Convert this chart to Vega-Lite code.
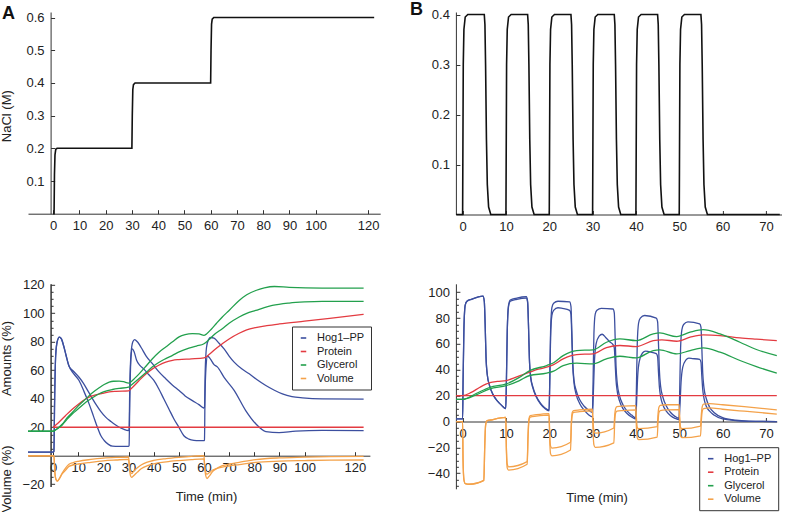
{
"$schema": "https://vega.github.io/schema/vega-lite/v6.json",
"background": "white",
"padding": {"left": 0, "top": 0, "right": 2, "bottom": 0},
"bounds": "flush",
"align": "each",
"columns": 2,
"spacing": {"row": 68.8, "column": 74.9},
"resolve": {"scale": {"color": "independent"}, "legend": {"color": "independent"}},
"datasets": {
"aTop": [{"t":0,"v":0},{"t":0.35,"v":0},{"t":0.5,"v":0.12},{"t":0.7,"v":0.18},{"t":1.0,"v":0.197},{"t":1.5,"v":0.2},{"t":30,"v":0.2},{"t":30.15,"v":0.3},{"t":30.35,"v":0.38},{"t":30.6,"v":0.395},{"t":31.2,"v":0.4},{"t":60,"v":0.4},{"t":60.15,"v":0.5},{"t":60.35,"v":0.58},{"t":60.6,"v":0.595},{"t":61.2,"v":0.6},{"t":122.3,"v":0.6}],
"bTop": [{"t":-1.5,"v":0},
{"t":0,"v":0},{"t":0.05,"v":0.1},{"t":0.15,"v":0.3},{"t":0.3,"v":0.37},{"t":0.6,"v":0.395},{"t":1.2,"v":0.4},{"t":5,"v":0.4},{"t":5.15,"v":0.38},{"t":5.3,"v":0.3},{"t":5.5,"v":0.15},{"t":5.7,"v":0.06},{"t":6,"v":0.015},{"t":6.5,"v":0},
{"t":10,"v":0},{"t":10.05,"v":0.1},{"t":10.15,"v":0.3},{"t":10.3,"v":0.37},{"t":10.6,"v":0.395},{"t":11.2,"v":0.4},{"t":15,"v":0.4},{"t":15.15,"v":0.38},{"t":15.3,"v":0.3},{"t":15.5,"v":0.15},{"t":15.7,"v":0.06},{"t":16,"v":0.015},{"t":16.5,"v":0},
{"t":20,"v":0},{"t":20.05,"v":0.1},{"t":20.15,"v":0.3},{"t":20.3,"v":0.37},{"t":20.6,"v":0.395},{"t":21.2,"v":0.4},{"t":25,"v":0.4},{"t":25.15,"v":0.38},{"t":25.3,"v":0.3},{"t":25.5,"v":0.15},{"t":25.7,"v":0.06},{"t":26,"v":0.015},{"t":26.5,"v":0},
{"t":30,"v":0},{"t":30.05,"v":0.1},{"t":30.15,"v":0.3},{"t":30.3,"v":0.37},{"t":30.6,"v":0.395},{"t":31.2,"v":0.4},{"t":35,"v":0.4},{"t":35.15,"v":0.38},{"t":35.3,"v":0.3},{"t":35.5,"v":0.15},{"t":35.7,"v":0.06},{"t":36,"v":0.015},{"t":36.5,"v":0},
{"t":40,"v":0},{"t":40.05,"v":0.1},{"t":40.15,"v":0.3},{"t":40.3,"v":0.37},{"t":40.6,"v":0.395},{"t":41.2,"v":0.4},{"t":45,"v":0.4},{"t":45.15,"v":0.38},{"t":45.3,"v":0.3},{"t":45.5,"v":0.15},{"t":45.7,"v":0.06},{"t":46,"v":0.015},{"t":46.5,"v":0},
{"t":50,"v":0},{"t":50.05,"v":0.1},{"t":50.15,"v":0.3},{"t":50.3,"v":0.37},{"t":50.6,"v":0.395},{"t":51.2,"v":0.4},{"t":55,"v":0.4},{"t":55.15,"v":0.38},{"t":55.3,"v":0.3},{"t":55.5,"v":0.15},{"t":55.7,"v":0.06},{"t":56,"v":0.015},{"t":56.5,"v":0},
{"t":73.2,"v":0}],
"aBot": [
{"s":"H","r":1,"t":-10,"v":2.5},{"s":"H","r":1,"t":0,"v":2.5},{"s":"H","r":1,"t":0.3,"v":3},{"s":"H","r":1,"t":0.6,"v":40},{"s":"H","r":1,"t":1.0,"v":70},{"s":"H","r":1,"t":1.6,"v":80},{"s":"H","r":1,"t":2.5,"v":83.3},{"s":"H","r":1,"t":3.3,"v":82},{"s":"H","r":1,"t":4.2,"v":77},{"s":"H","r":1,"t":5.2,"v":70},{"s":"H","r":1,"t":6.3,"v":63},{"s":"H","r":1,"t":8,"v":58},{"s":"H","r":1,"t":10.3,"v":52.8},{"s":"H","r":1,"t":12.3,"v":45},{"s":"H","r":1,"t":14.3,"v":36.4},{"s":"H","r":1,"t":16,"v":28},{"s":"H","r":1,"t":17.6,"v":20},{"s":"H","r":1,"t":19,"v":14},{"s":"H","r":1,"t":20.3,"v":10.7},{"s":"H","r":1,"t":22,"v":8},{"s":"H","r":1,"t":23.6,"v":6.7},{"s":"H","r":1,"t":26,"v":6.5},{"s":"H","r":1,"t":29.9,"v":6.5},{"s":"H","r":1,"t":30.2,"v":7},{"s":"H","r":1,"t":30.5,"v":40},{"s":"H","r":1,"t":31,"v":70},{"s":"H","r":1,"t":31.5,"v":75},{"s":"H","r":1,"t":32.2,"v":73},{"s":"H","r":1,"t":33.2,"v":67},{"s":"H","r":1,"t":34.5,"v":63.4},{"s":"H","r":1,"t":36,"v":61},{"s":"H","r":1,"t":38,"v":57},{"s":"H","r":1,"t":40,"v":53},{"s":"H","r":1,"t":42,"v":47},{"s":"H","r":1,"t":44,"v":40},{"s":"H","r":1,"t":46,"v":33},{"s":"H","r":1,"t":48,"v":26},{"s":"H","r":1,"t":50,"v":20},{"s":"H","r":1,"t":52,"v":14},{"s":"H","r":1,"t":54,"v":11.7},{"s":"H","r":1,"t":56,"v":10.8},{"s":"H","r":1,"t":58,"v":10.6},{"s":"H","r":1,"t":59.9,"v":10.6},{"s":"H","r":1,"t":60.2,"v":11},{"s":"H","r":1,"t":60.4,"v":40},{"s":"H","r":1,"t":60.8,"v":62},{"s":"H","r":1,"t":61.4,"v":70},{"s":"H","r":1,"t":62.5,"v":68},{"s":"H","r":1,"t":64,"v":64},{"s":"H","r":1,"t":65.4,"v":62.2},{"s":"H","r":1,"t":68,"v":55},{"s":"H","r":1,"t":72,"v":45.9},{"s":"H","r":1,"t":76.6,"v":31.7},{"s":"H","r":1,"t":80.6,"v":22.4},{"s":"H","r":1,"t":84.6,"v":17},{"s":"H","r":1,"t":89.9,"v":16.2},{"s":"H","r":1,"t":96.5,"v":17.3},{"s":"H","r":1,"t":107,"v":17.8},{"s":"H","r":1,"t":123.5,"v":17.6},
{"s":"H","r":2,"t":-10,"v":2.5},{"s":"H","r":2,"t":0,"v":2.5},{"s":"H","r":2,"t":0.3,"v":3},{"s":"H","r":2,"t":0.6,"v":40},{"s":"H","r":2,"t":1.0,"v":70},{"s":"H","r":2,"t":1.6,"v":80},{"s":"H","r":2,"t":2.5,"v":83.3},{"s":"H","r":2,"t":3.3,"v":82},{"s":"H","r":2,"t":4.2,"v":77},{"s":"H","r":2,"t":5.2,"v":70},{"s":"H","r":2,"t":6.3,"v":63},{"s":"H","r":2,"t":8,"v":59.5},{"s":"H","r":2,"t":10.3,"v":55.1},{"s":"H","r":2,"t":12,"v":51},{"s":"H","r":2,"t":14,"v":45},{"s":"H","r":2,"t":16.9,"v":36.4},{"s":"H","r":2,"t":19,"v":31},{"s":"H","r":2,"t":20.9,"v":27.1},{"s":"H","r":2,"t":23,"v":24},{"s":"H","r":2,"t":26.3,"v":20},{"s":"H","r":2,"t":28,"v":18.7},{"s":"H","r":2,"t":29.9,"v":17.7},{"s":"H","r":2,"t":30.2,"v":18},{"s":"H","r":2,"t":30.5,"v":50},{"s":"H","r":2,"t":31,"v":72},{"s":"H","r":2,"t":31.7,"v":80},{"s":"H","r":2,"t":32.4,"v":81.5},{"s":"H","r":2,"t":33.5,"v":80},{"s":"H","r":2,"t":35,"v":76},{"s":"H","r":2,"t":37,"v":70},{"s":"H","r":2,"t":39.5,"v":64.6},{"s":"H","r":2,"t":42,"v":59},{"s":"H","r":2,"t":44.8,"v":54},{"s":"H","r":2,"t":47.5,"v":49.5},{"s":"H","r":2,"t":50.1,"v":45.8},{"s":"H","r":2,"t":52.5,"v":42},{"s":"H","r":2,"t":55.4,"v":38.7},{"s":"H","r":2,"t":58,"v":35.9},{"s":"H","r":2,"t":59.9,"v":33.5},{"s":"H","r":2,"t":60.2,"v":34},{"s":"H","r":2,"t":60.5,"v":60},{"s":"H","r":2,"t":61,"v":76},{"s":"H","r":2,"t":61.8,"v":81.5},{"s":"H","r":2,"t":62.7,"v":83},{"s":"H","r":2,"t":64,"v":82.5},{"s":"H","r":2,"t":66,"v":79},{"s":"H","r":2,"t":68,"v":75},{"s":"H","r":2,"t":70,"v":70},{"s":"H","r":2,"t":72,"v":65.7},{"s":"H","r":2,"t":75,"v":61},{"s":"H","r":2,"t":78,"v":57.5},{"s":"H","r":2,"t":81,"v":53.5},{"s":"H","r":2,"t":84.6,"v":49.3},{"s":"H","r":2,"t":88,"v":46},{"s":"H","r":2,"t":91.2,"v":43.4},{"s":"H","r":2,"t":95,"v":41.5},{"s":"H","r":2,"t":99.2,"v":40.6},{"s":"H","r":2,"t":107,"v":39.9},{"s":"H","r":2,"t":123.5,"v":39.8},
{"s":"P","r":1,"t":0,"v":20},{"s":"P","r":1,"t":123.5,"v":20},
{"s":"P","r":2,"t":0,"v":20},{"s":"P","r":2,"t":2,"v":23},{"s":"P","r":2,"t":5,"v":28.3},{"s":"P","r":2,"t":7.5,"v":32.5},{"s":"P","r":2,"t":10.3,"v":36.5},{"s":"P","r":2,"t":13,"v":40},{"s":"P","r":2,"t":15.6,"v":42},{"s":"P","r":2,"t":19.6,"v":43.8},{"s":"P","r":2,"t":22.3,"v":44.8},{"s":"P","r":2,"t":25,"v":45.2},{"s":"P","r":2,"t":30,"v":45.5},{"s":"P","r":2,"t":31,"v":47},{"s":"P","r":2,"t":34.2,"v":52.8},{"s":"P","r":2,"t":37,"v":57.5},{"s":"P","r":2,"t":39.5,"v":61},{"s":"P","r":2,"t":42,"v":63.5},{"s":"P","r":2,"t":44.8,"v":65.7},{"s":"P","r":2,"t":47.5,"v":67},{"s":"P","r":2,"t":50,"v":67.5},{"s":"P","r":2,"t":55,"v":68},{"s":"P","r":2,"t":60,"v":68.7},{"s":"P","r":2,"t":62,"v":71},{"s":"P","r":2,"t":64.7,"v":75.1},{"s":"P","r":2,"t":67.3,"v":78.6},{"s":"P","r":2,"t":70,"v":82},{"s":"P","r":2,"t":74,"v":86},{"s":"P","r":2,"t":77,"v":88.3},{"s":"P","r":2,"t":80,"v":89.8},{"s":"P","r":2,"t":85,"v":91.3},{"s":"P","r":2,"t":90,"v":92.5},{"s":"P","r":2,"t":100,"v":94.5},{"s":"P","r":2,"t":110,"v":96.5},{"s":"P","r":2,"t":123.5,"v":99.2},
{"s":"G","r":1,"t":-10,"v":17.2},{"s":"G","r":1,"t":0,"v":17.2},{"s":"G","r":1,"t":0.4,"v":17.5},{"s":"G","r":1,"t":2,"v":19.5},{"s":"G","r":1,"t":3.7,"v":22.3},{"s":"G","r":1,"t":5.5,"v":26.5},{"s":"G","r":1,"t":7.7,"v":30.5},{"s":"G","r":1,"t":10,"v":35},{"s":"G","r":1,"t":13,"v":39.9},{"s":"G","r":1,"t":15.5,"v":44},{"s":"G","r":1,"t":18.3,"v":47.7},{"s":"G","r":1,"t":20.3,"v":50},{"s":"G","r":1,"t":22.3,"v":51.7},{"s":"G","r":1,"t":24,"v":52.3},{"s":"G","r":1,"t":26.3,"v":52.4},{"s":"G","r":1,"t":28,"v":52},{"s":"G","r":1,"t":30,"v":51},{"s":"G","r":1,"t":31,"v":52},{"s":"G","r":1,"t":32.5,"v":54.5},{"s":"G","r":1,"t":34.2,"v":57.5},{"s":"G","r":1,"t":37,"v":63},{"s":"G","r":1,"t":39.5,"v":68.1},{"s":"G","r":1,"t":42,"v":72.5},{"s":"G","r":1,"t":44.8,"v":76.3},{"s":"G","r":1,"t":47.5,"v":80},{"s":"G","r":1,"t":50.1,"v":83.4},{"s":"G","r":1,"t":52.5,"v":85},{"s":"G","r":1,"t":55.4,"v":85.7},{"s":"G","r":1,"t":58,"v":85.5},{"s":"G","r":1,"t":60,"v":84.5},{"s":"G","r":1,"t":61,"v":85.5},{"s":"G","r":1,"t":63,"v":89},{"s":"G","r":1,"t":65,"v":93},{"s":"G","r":1,"t":67.3,"v":97.4},{"s":"G","r":1,"t":70,"v":102},{"s":"G","r":1,"t":74,"v":109},{"s":"G","r":1,"t":77,"v":113},{"s":"G","r":1,"t":80.6,"v":116},{"s":"G","r":1,"t":84,"v":117.8},{"s":"G","r":1,"t":88,"v":118.8},{"s":"G","r":1,"t":93.9,"v":118.2},{"s":"G","r":1,"t":107,"v":117.7},{"s":"G","r":1,"t":123.5,"v":117.7},
{"s":"G","r":2,"t":-10,"v":17.2},{"s":"G","r":2,"t":0,"v":17.2},{"s":"G","r":2,"t":0.4,"v":17.5},{"s":"G","r":2,"t":2,"v":19.3},{"s":"G","r":2,"t":3.7,"v":21.8},{"s":"G","r":2,"t":5.5,"v":25.5},{"s":"G","r":2,"t":7.7,"v":29.5},{"s":"G","r":2,"t":10,"v":33},{"s":"G","r":2,"t":13,"v":37.6},{"s":"G","r":2,"t":15.5,"v":40.5},{"s":"G","r":2,"t":18.3,"v":43.5},{"s":"G","r":2,"t":20.3,"v":45},{"s":"G","r":2,"t":23.6,"v":46.5},{"s":"G","r":2,"t":26.3,"v":47.3},{"s":"G","r":2,"t":30,"v":48.1},{"s":"G","r":2,"t":31,"v":49.5},{"s":"G","r":2,"t":34.2,"v":54.2},{"s":"G","r":2,"t":37,"v":58.5},{"s":"G","r":2,"t":39.5,"v":62.4},{"s":"G","r":2,"t":42,"v":65.5},{"s":"G","r":2,"t":44.8,"v":68.2},{"s":"G","r":2,"t":47.5,"v":70.5},{"s":"G","r":2,"t":50.1,"v":72.9},{"s":"G","r":2,"t":54,"v":75.5},{"s":"G","r":2,"t":57,"v":77},{"s":"G","r":2,"t":60,"v":78.6},{"s":"G","r":2,"t":62,"v":81.5},{"s":"G","r":2,"t":64,"v":85},{"s":"G","r":2,"t":67.3,"v":89.2},{"s":"G","r":2,"t":70,"v":93},{"s":"G","r":2,"t":74,"v":97.4},{"s":"G","r":2,"t":77,"v":100},{"s":"G","r":2,"t":80.6,"v":102},{"s":"G","r":2,"t":84,"v":104},{"s":"G","r":2,"t":87.2,"v":105.5},{"s":"G","r":2,"t":93.9,"v":107.2},{"s":"G","r":2,"t":100,"v":108},{"s":"G","r":2,"t":107,"v":108.4},{"s":"G","r":2,"t":123.5,"v":108.4},
{"s":"V","r":1,"t":-10,"v":0},{"s":"V","r":1,"t":0.3,"v":0},{"s":"V","r":1,"t":0.7,"v":-12},{"s":"V","r":1,"t":1.1,"v":-16.5},{"s":"V","r":1,"t":1.7,"v":-17.8},{"s":"V","r":1,"t":2.5,"v":-16},{"s":"V","r":1,"t":3.5,"v":-12.5},{"s":"V","r":1,"t":5,"v":-8.5},{"s":"V","r":1,"t":6.3,"v":-6},{"s":"V","r":1,"t":8,"v":-4.8},{"s":"V","r":1,"t":10,"v":-3.9},{"s":"V","r":1,"t":15,"v":-2.6},{"s":"V","r":1,"t":20,"v":-1.7},{"s":"V","r":1,"t":25,"v":-1.2},{"s":"V","r":1,"t":30,"v":-0.9},{"s":"V","r":1,"t":30.3,"v":-6},{"s":"V","r":1,"t":30.7,"v":-11},{"s":"V","r":1,"t":31.2,"v":-12.5},{"s":"V","r":1,"t":32,"v":-11},{"s":"V","r":1,"t":33.5,"v":-8.5},{"s":"V","r":1,"t":35,"v":-6.5},{"s":"V","r":1,"t":37.5,"v":-4.5},{"s":"V","r":1,"t":40,"v":-3.3},{"s":"V","r":1,"t":45,"v":-2},{"s":"V","r":1,"t":50,"v":-1.1},{"s":"V","r":1,"t":55,"v":-0.4},{"s":"V","r":1,"t":60,"v":0},{"s":"V","r":1,"t":60.3,"v":-8},{"s":"V","r":1,"t":60.7,"v":-14},{"s":"V","r":1,"t":61.2,"v":-16},{"s":"V","r":1,"t":62,"v":-14.5},{"s":"V","r":1,"t":63.5,"v":-11},{"s":"V","r":1,"t":65,"v":-9},{"s":"V","r":1,"t":67.3,"v":-7},{"s":"V","r":1,"t":70,"v":-5.8},{"s":"V","r":1,"t":74,"v":-4.6},{"s":"V","r":1,"t":80.6,"v":-2.7},{"s":"V","r":1,"t":90,"v":-1.5},{"s":"V","r":1,"t":100,"v":-1},{"s":"V","r":1,"t":110,"v":-0.6},{"s":"V","r":1,"t":123.5,"v":-0.4},
{"s":"V","r":2,"t":-10,"v":0},{"s":"V","r":2,"t":0.3,"v":0},{"s":"V","r":2,"t":0.7,"v":-12},{"s":"V","r":2,"t":1.1,"v":-16.5},{"s":"V","r":2,"t":1.7,"v":-17.8},{"s":"V","r":2,"t":2.5,"v":-16},{"s":"V","r":2,"t":3.5,"v":-13},{"s":"V","r":2,"t":5,"v":-10},{"s":"V","r":2,"t":6.3,"v":-7.5},{"s":"V","r":2,"t":8,"v":-6.5},{"s":"V","r":2,"t":10,"v":-5.8},{"s":"V","r":2,"t":15,"v":-4.6},{"s":"V","r":2,"t":20,"v":-3.6},{"s":"V","r":2,"t":25,"v":-3},{"s":"V","r":2,"t":30,"v":-2.5},{"s":"V","r":2,"t":30.3,"v":-8},{"s":"V","r":2,"t":30.7,"v":-13.5},{"s":"V","r":2,"t":31.2,"v":-15.2},{"s":"V","r":2,"t":32,"v":-14},{"s":"V","r":2,"t":33.5,"v":-11.5},{"s":"V","r":2,"t":35,"v":-9.2},{"s":"V","r":2,"t":37.5,"v":-7},{"s":"V","r":2,"t":40,"v":-5.7},{"s":"V","r":2,"t":45,"v":-4.3},{"s":"V","r":2,"t":50,"v":-3.4},{"s":"V","r":2,"t":55,"v":-2.7},{"s":"V","r":2,"t":60,"v":-2.2},{"s":"V","r":2,"t":60.3,"v":-8},{"s":"V","r":2,"t":60.7,"v":-12},{"s":"V","r":2,"t":61.2,"v":-13},{"s":"V","r":2,"t":62,"v":-12},{"s":"V","r":2,"t":63.5,"v":-10},{"s":"V","r":2,"t":65,"v":-9},{"s":"V","r":2,"t":67.3,"v":-8},{"s":"V","r":2,"t":70,"v":-7.2},{"s":"V","r":2,"t":74,"v":-6.2},{"s":"V","r":2,"t":80.6,"v":-4.6},{"s":"V","r":2,"t":90,"v":-3.8},{"s":"V","r":2,"t":100,"v":-3.4},{"s":"V","r":2,"t":110,"v":-3.1},{"s":"V","r":2,"t":123.5,"v":-3}
],
"bBot": [
{"s":"H","r":1,"t":-1.5,"v":2.1},{"s":"H","r":1,"t":0,"v":2.1},{"s":"H","r":1,"t":0.1,"v":30},{"s":"H","r":1,"t":0.3,"v":72},{"s":"H","r":1,"t":0.6,"v":90},{"s":"H","r":1,"t":1,"v":93},{"s":"H","r":1,"t":2,"v":94.5},{"s":"H","r":1,"t":4.7,"v":97},{"s":"H","r":1,"t":5,"v":93},{"s":"H","r":1,"t":5.2,"v":75},{"s":"H","r":1,"t":5.4,"v":50},{"s":"H","r":1,"t":5.7,"v":36},{"s":"H","r":1,"t":6.2,"v":28},{"s":"H","r":1,"t":7,"v":21},{"s":"H","r":1,"t":8,"v":16},{"s":"H","r":1,"t":9,"v":12.5},{"s":"H","r":1,"t":9.95,"v":10},
{"s":"H","r":1,"t":10.1,"v":30},{"s":"H","r":1,"t":10.3,"v":70},{"s":"H","r":1,"t":10.6,"v":90},{"s":"H","r":1,"t":11,"v":94},{"s":"H","r":1,"t":12.5,"v":95.5},{"s":"H","r":1,"t":14.7,"v":96.5},{"s":"H","r":1,"t":15,"v":93},{"s":"H","r":1,"t":15.2,"v":75},{"s":"H","r":1,"t":15.4,"v":50},{"s":"H","r":1,"t":15.7,"v":35},{"s":"H","r":1,"t":16.2,"v":27},{"s":"H","r":1,"t":17,"v":19.5},{"s":"H","r":1,"t":18,"v":14},{"s":"H","r":1,"t":19,"v":10.5},{"s":"H","r":1,"t":19.95,"v":8.8},
{"s":"H","r":1,"t":20.1,"v":30},{"s":"H","r":1,"t":20.3,"v":70},{"s":"H","r":1,"t":20.6,"v":88},{"s":"H","r":1,"t":21,"v":91.5},{"s":"H","r":1,"t":22,"v":93},{"s":"H","r":1,"t":24.7,"v":92.5},{"s":"H","r":1,"t":25,"v":89},{"s":"H","r":1,"t":25.2,"v":70},{"s":"H","r":1,"t":25.4,"v":47},{"s":"H","r":1,"t":25.7,"v":32},{"s":"H","r":1,"t":26.2,"v":24},{"s":"H","r":1,"t":27,"v":17},{"s":"H","r":1,"t":28,"v":12},{"s":"H","r":1,"t":29,"v":9},{"s":"H","r":1,"t":29.95,"v":7.2},
{"s":"H","r":1,"t":30.1,"v":30},{"s":"H","r":1,"t":30.3,"v":68},{"s":"H","r":1,"t":30.6,"v":83},{"s":"H","r":1,"t":31,"v":86},{"s":"H","r":1,"t":32,"v":87.5},{"s":"H","r":1,"t":34.7,"v":87},{"s":"H","r":1,"t":35,"v":84},{"s":"H","r":1,"t":35.2,"v":65},{"s":"H","r":1,"t":35.4,"v":43},{"s":"H","r":1,"t":35.7,"v":29},{"s":"H","r":1,"t":36.2,"v":20},{"s":"H","r":1,"t":37,"v":13},{"s":"H","r":1,"t":38,"v":8},{"s":"H","r":1,"t":39,"v":5},{"s":"H","r":1,"t":39.95,"v":3},
{"s":"H","r":1,"t":40.1,"v":25},{"s":"H","r":1,"t":40.3,"v":60},{"s":"H","r":1,"t":40.6,"v":76},{"s":"H","r":1,"t":41,"v":80},{"s":"H","r":1,"t":42,"v":82},{"s":"H","r":1,"t":44.7,"v":80},{"s":"H","r":1,"t":45,"v":77},{"s":"H","r":1,"t":45.2,"v":60},{"s":"H","r":1,"t":45.4,"v":40},{"s":"H","r":1,"t":45.7,"v":27},{"s":"H","r":1,"t":46.2,"v":19},{"s":"H","r":1,"t":47,"v":12},{"s":"H","r":1,"t":48,"v":7},{"s":"H","r":1,"t":49,"v":4},{"s":"H","r":1,"t":49.95,"v":2.5},
{"s":"H","r":1,"t":50.1,"v":25},{"s":"H","r":1,"t":50.3,"v":57},{"s":"H","r":1,"t":50.6,"v":71},{"s":"H","r":1,"t":51,"v":75},{"s":"H","r":1,"t":52,"v":77},{"s":"H","r":1,"t":54.7,"v":75.5},{"s":"H","r":1,"t":55,"v":73},{"s":"H","r":1,"t":55.2,"v":57},{"s":"H","r":1,"t":55.4,"v":38},{"s":"H","r":1,"t":55.7,"v":26},{"s":"H","r":1,"t":56.2,"v":18},{"s":"H","r":1,"t":57,"v":11},{"s":"H","r":1,"t":58,"v":7},{"s":"H","r":1,"t":60,"v":3},{"s":"H","r":1,"t":63,"v":1},{"s":"H","r":1,"t":66,"v":0.3},{"s":"H","r":1,"t":72.5,"v":0},
{"s":"H","r":2,"t":-1.5,"v":2.1},{"s":"H","r":2,"t":0,"v":2.1},{"s":"H","r":2,"t":0.1,"v":30},{"s":"H","r":2,"t":0.3,"v":72},{"s":"H","r":2,"t":0.6,"v":90},{"s":"H","r":2,"t":1,"v":93},{"s":"H","r":2,"t":2,"v":94.5},{"s":"H","r":2,"t":4.7,"v":97},{"s":"H","r":2,"t":5,"v":93},{"s":"H","r":2,"t":5.2,"v":75},{"s":"H","r":2,"t":5.4,"v":50},{"s":"H","r":2,"t":5.7,"v":36},{"s":"H","r":2,"t":6.2,"v":28},{"s":"H","r":2,"t":7,"v":21},{"s":"H","r":2,"t":8,"v":16},{"s":"H","r":2,"t":9,"v":12.5},{"s":"H","r":2,"t":9.95,"v":10},
{"s":"H","r":2,"t":10.1,"v":30},{"s":"H","r":2,"t":10.3,"v":70},{"s":"H","r":2,"t":10.6,"v":89},{"s":"H","r":2,"t":11,"v":93},{"s":"H","r":2,"t":12.5,"v":94.5},{"s":"H","r":2,"t":14.7,"v":95.5},{"s":"H","r":2,"t":15,"v":92},{"s":"H","r":2,"t":15.2,"v":74},{"s":"H","r":2,"t":15.4,"v":49},{"s":"H","r":2,"t":15.7,"v":34},{"s":"H","r":2,"t":16.2,"v":26},{"s":"H","r":2,"t":17,"v":19},{"s":"H","r":2,"t":18,"v":13.5},{"s":"H","r":2,"t":19,"v":10},{"s":"H","r":2,"t":19.95,"v":8.3},
{"s":"H","r":2,"t":20.1,"v":28},{"s":"H","r":2,"t":20.3,"v":65},{"s":"H","r":2,"t":20.6,"v":82},{"s":"H","r":2,"t":21,"v":86},{"s":"H","r":2,"t":22,"v":88},{"s":"H","r":2,"t":23,"v":87.5},{"s":"H","r":2,"t":24.7,"v":86},{"s":"H","r":2,"t":25,"v":83},{"s":"H","r":2,"t":25.2,"v":65},{"s":"H","r":2,"t":25.4,"v":44},{"s":"H","r":2,"t":25.7,"v":30},{"s":"H","r":2,"t":26.2,"v":21},{"s":"H","r":2,"t":27,"v":14},{"s":"H","r":2,"t":28,"v":9},{"s":"H","r":2,"t":29,"v":5.5},{"s":"H","r":2,"t":29.95,"v":3.6},
{"s":"H","r":2,"t":30.15,"v":20},{"s":"H","r":2,"t":30.4,"v":45},{"s":"H","r":2,"t":30.8,"v":60},{"s":"H","r":2,"t":31.5,"v":66},{"s":"H","r":2,"t":32.2,"v":67.5},{"s":"H","r":2,"t":33,"v":65},{"s":"H","r":2,"t":34,"v":61.5},{"s":"H","r":2,"t":34.7,"v":59.5},{"s":"H","r":2,"t":35,"v":57},{"s":"H","r":2,"t":35.2,"v":45},{"s":"H","r":2,"t":35.4,"v":32},{"s":"H","r":2,"t":35.7,"v":23},{"s":"H","r":2,"t":36.2,"v":16},{"s":"H","r":2,"t":37,"v":10},{"s":"H","r":2,"t":38,"v":6},{"s":"H","r":2,"t":39,"v":3.5},{"s":"H","r":2,"t":39.95,"v":2},
{"s":"H","r":2,"t":40.15,"v":15},{"s":"H","r":2,"t":40.4,"v":35},{"s":"H","r":2,"t":40.8,"v":47},{"s":"H","r":2,"t":41.5,"v":53},{"s":"H","r":2,"t":42.2,"v":54.5},{"s":"H","r":2,"t":43,"v":54},{"s":"H","r":2,"t":44.7,"v":52.5},{"s":"H","r":2,"t":45,"v":50},{"s":"H","r":2,"t":45.2,"v":38},{"s":"H","r":2,"t":45.4,"v":27},{"s":"H","r":2,"t":45.7,"v":19},{"s":"H","r":2,"t":46.2,"v":13},{"s":"H","r":2,"t":47,"v":8},{"s":"H","r":2,"t":48,"v":4.5},{"s":"H","r":2,"t":49,"v":2.5},{"s":"H","r":2,"t":49.95,"v":1.5},
{"s":"H","r":2,"t":50.15,"v":12},{"s":"H","r":2,"t":50.4,"v":30},{"s":"H","r":2,"t":50.8,"v":42},{"s":"H","r":2,"t":51.5,"v":47.5},{"s":"H","r":2,"t":52.2,"v":49},{"s":"H","r":2,"t":53,"v":48.7},{"s":"H","r":2,"t":54.7,"v":48},{"s":"H","r":2,"t":55,"v":46},{"s":"H","r":2,"t":55.2,"v":35},{"s":"H","r":2,"t":55.4,"v":25},{"s":"H","r":2,"t":55.7,"v":18},{"s":"H","r":2,"t":56.2,"v":12},{"s":"H","r":2,"t":57,"v":8},{"s":"H","r":2,"t":58,"v":5},{"s":"H","r":2,"t":60,"v":2},{"s":"H","r":2,"t":63,"v":0.7},{"s":"H","r":2,"t":66,"v":0.2},{"s":"H","r":2,"t":72.5,"v":0},
{"s":"P","r":1,"t":-1.5,"v":20},{"s":"P","r":1,"t":72.5,"v":20},
{"s":"P","r":2,"t":-1.5,"v":20},{"s":"P","r":2,"t":0,"v":20},{"s":"P","r":2,"t":2,"v":22.5},{"s":"P","r":2,"t":4,"v":26.5},{"s":"P","r":2,"t":6.3,"v":30},{"s":"P","r":2,"t":8,"v":31},{"s":"P","r":2,"t":10.1,"v":31.7},{"s":"P","r":2,"t":12.5,"v":34.5},{"s":"P","r":2,"t":15.5,"v":38.2},{"s":"P","r":2,"t":17.5,"v":40.5},{"s":"P","r":2,"t":19.4,"v":42},{"s":"P","r":2,"t":21,"v":44},{"s":"P","r":2,"t":23.2,"v":48.5},{"s":"P","r":2,"t":26.3,"v":51.8},{"s":"P","r":2,"t":30.1,"v":52.3},{"s":"P","r":2,"t":33.2,"v":57.2},{"s":"P","r":2,"t":36.3,"v":58.8},{"s":"P","r":2,"t":40.1,"v":58},{"s":"P","r":2,"t":44,"v":62.6},{"s":"P","r":2,"t":46,"v":63.2},{"s":"P","r":2,"t":49.4,"v":62.1},{"s":"P","r":2,"t":52.5,"v":65.2},{"s":"P","r":2,"t":55.5,"v":67},{"s":"P","r":2,"t":59.4,"v":66.5},{"s":"P","r":2,"t":64,"v":64.7},{"s":"P","r":2,"t":67.8,"v":63.7},{"s":"P","r":2,"t":72.5,"v":62.6},
{"s":"G","r":1,"t":-1.5,"v":17.2},{"s":"G","r":1,"t":0,"v":17.2},{"s":"G","r":1,"t":3,"v":21.5},{"s":"G","r":1,"t":6.3,"v":26.5},{"s":"G","r":1,"t":10.1,"v":29.1},{"s":"G","r":1,"t":13,"v":34},{"s":"G","r":1,"t":15.5,"v":39.4},{"s":"G","r":1,"t":19.4,"v":43.3},{"s":"G","r":1,"t":21,"v":45.5},{"s":"G","r":1,"t":23.2,"v":51},{"s":"G","r":1,"t":26.3,"v":54.9},{"s":"G","r":1,"t":30.1,"v":55.4},{"s":"G","r":1,"t":33.2,"v":61.3},{"s":"G","r":1,"t":36.3,"v":63.9},{"s":"G","r":1,"t":40.1,"v":62.6},{"s":"G","r":1,"t":44,"v":67.8},{"s":"G","r":1,"t":45.5,"v":68.5},{"s":"G","r":1,"t":49.4,"v":65.7},{"s":"G","r":1,"t":52.5,"v":69.1},{"s":"G","r":1,"t":55.5,"v":71.1},{"s":"G","r":1,"t":59.4,"v":67.8},{"s":"G","r":1,"t":64,"v":61.3},{"s":"G","r":1,"t":67.8,"v":55.7},{"s":"G","r":1,"t":72.5,"v":51},
{"s":"G","r":2,"t":-1.5,"v":17.2},{"s":"G","r":2,"t":0,"v":17.2},{"s":"G","r":2,"t":3,"v":20.5},{"s":"G","r":2,"t":6.3,"v":25.2},{"s":"G","r":2,"t":10.1,"v":27.8},{"s":"G","r":2,"t":13,"v":31.5},{"s":"G","r":2,"t":15.5,"v":35.6},{"s":"G","r":2,"t":19.4,"v":37.4},{"s":"G","r":2,"t":21,"v":39},{"s":"G","r":2,"t":23.2,"v":43.3},{"s":"G","r":2,"t":26.3,"v":45.1},{"s":"G","r":2,"t":30.1,"v":44.6},{"s":"G","r":2,"t":33.2,"v":48.5},{"s":"G","r":2,"t":36.3,"v":50.5},{"s":"G","r":2,"t":40.1,"v":49.2},{"s":"G","r":2,"t":44,"v":54.9},{"s":"G","r":2,"t":45.5,"v":55.4},{"s":"G","r":2,"t":49.4,"v":52.3},{"s":"G","r":2,"t":52.5,"v":54.9},{"s":"G","r":2,"t":55.5,"v":56.9},{"s":"G","r":2,"t":59.4,"v":53.6},{"s":"G","r":2,"t":64,"v":47.2},{"s":"G","r":2,"t":67.8,"v":42.5},{"s":"G","r":2,"t":72.5,"v":37.4},
{"s":"V","r":1,"t":-1.5,"v":0},{"s":"V","r":1,"t":0,"v":0},{"s":"V","r":1,"t":0.1,"v":-30},{"s":"V","r":1,"t":0.3,"v":-45},{"s":"V","r":1,"t":0.6,"v":-48},{"s":"V","r":1,"t":1.5,"v":-48.5},{"s":"V","r":1,"t":4.9,"v":-45.5},{"s":"V","r":1,"t":5.1,"v":-20},{"s":"V","r":1,"t":5.3,"v":-3},{"s":"V","r":1,"t":5.6,"v":0.5},{"s":"V","r":1,"t":6.5,"v":1.2},{"s":"V","r":1,"t":9.95,"v":3.2},
{"s":"V","r":1,"t":10.1,"v":-20},{"s":"V","r":1,"t":10.3,"v":-33},{"s":"V","r":1,"t":10.6,"v":-35},{"s":"V","r":1,"t":14.9,"v":-31},{"s":"V","r":1,"t":15.1,"v":-10},{"s":"V","r":1,"t":15.3,"v":2},{"s":"V","r":1,"t":15.6,"v":4.5},{"s":"V","r":1,"t":17,"v":5.3},{"s":"V","r":1,"t":19.95,"v":6.2},
{"s":"V","r":1,"t":20.1,"v":-10},{"s":"V","r":1,"t":20.3,"v":-19},{"s":"V","r":1,"t":20.6,"v":-20.5},{"s":"V","r":1,"t":24.9,"v":-16},{"s":"V","r":1,"t":25.1,"v":0},{"s":"V","r":1,"t":25.3,"v":7},{"s":"V","r":1,"t":25.6,"v":8.5},{"s":"V","r":1,"t":27,"v":9},{"s":"V","r":1,"t":29.95,"v":9.5},
{"s":"V","r":1,"t":30.1,"v":0},{"s":"V","r":1,"t":30.3,"v":-7.5},{"s":"V","r":1,"t":30.6,"v":-9},{"s":"V","r":1,"t":34.9,"v":-5},{"s":"V","r":1,"t":35.1,"v":5},{"s":"V","r":1,"t":35.3,"v":10},{"s":"V","r":1,"t":35.6,"v":11.5},{"s":"V","r":1,"t":37,"v":12},{"s":"V","r":1,"t":39.95,"v":12.3},
{"s":"V","r":1,"t":40.1,"v":3},{"s":"V","r":1,"t":40.3,"v":-4.5},{"s":"V","r":1,"t":40.6,"v":-5.5},{"s":"V","r":1,"t":44.9,"v":-4},{"s":"V","r":1,"t":45.1,"v":6},{"s":"V","r":1,"t":45.3,"v":11},{"s":"V","r":1,"t":45.6,"v":12.5},{"s":"V","r":1,"t":47,"v":13},{"s":"V","r":1,"t":49.95,"v":13},
{"s":"V","r":1,"t":50.1,"v":3},{"s":"V","r":1,"t":50.3,"v":-4.5},{"s":"V","r":1,"t":50.6,"v":-5.5},{"s":"V","r":1,"t":54.9,"v":-3.5},{"s":"V","r":1,"t":55.1,"v":6},{"s":"V","r":1,"t":55.3,"v":11.5},{"s":"V","r":1,"t":55.6,"v":13.5},{"s":"V","r":1,"t":57,"v":13.8},{"s":"V","r":1,"t":60,"v":13},{"s":"V","r":1,"t":65,"v":11.5},{"s":"V","r":1,"t":72.5,"v":9},
{"s":"V","r":2,"t":-1.5,"v":0},{"s":"V","r":2,"t":0,"v":0},{"s":"V","r":2,"t":0.1,"v":-30},{"s":"V","r":2,"t":0.3,"v":-45},{"s":"V","r":2,"t":0.6,"v":-48},{"s":"V","r":2,"t":1.5,"v":-48.5},{"s":"V","r":2,"t":4.9,"v":-45.5},{"s":"V","r":2,"t":5.1,"v":-20},{"s":"V","r":2,"t":5.3,"v":-3},{"s":"V","r":2,"t":5.6,"v":0.5},{"s":"V","r":2,"t":6.5,"v":1.2},{"s":"V","r":2,"t":9.95,"v":3.2},
{"s":"V","r":2,"t":10.1,"v":-22},{"s":"V","r":2,"t":10.3,"v":-36},{"s":"V","r":2,"t":10.6,"v":-37.5},{"s":"V","r":2,"t":14.9,"v":-33},{"s":"V","r":2,"t":15.1,"v":-12},{"s":"V","r":2,"t":15.3,"v":0.5},{"s":"V","r":2,"t":15.6,"v":3.5},{"s":"V","r":2,"t":17,"v":4.2},{"s":"V","r":2,"t":19.95,"v":5},
{"s":"V","r":2,"t":20.1,"v":-14},{"s":"V","r":2,"t":20.3,"v":-25},{"s":"V","r":2,"t":20.6,"v":-26.5},{"s":"V","r":2,"t":24.9,"v":-22},{"s":"V","r":2,"t":25.1,"v":-3},{"s":"V","r":2,"t":25.3,"v":5},{"s":"V","r":2,"t":25.6,"v":7},{"s":"V","r":2,"t":27,"v":7.6},{"s":"V","r":2,"t":29.95,"v":8.2},
{"s":"V","r":2,"t":30.1,"v":-8},{"s":"V","r":2,"t":30.3,"v":-18},{"s":"V","r":2,"t":30.6,"v":-20},{"s":"V","r":2,"t":34.9,"v":-16.5},{"s":"V","r":2,"t":35.1,"v":0},{"s":"V","r":2,"t":35.3,"v":6.5},{"s":"V","r":2,"t":35.6,"v":8},{"s":"V","r":2,"t":37,"v":8.5},{"s":"V","r":2,"t":39.95,"v":9},
{"s":"V","r":2,"t":40.1,"v":-4},{"s":"V","r":2,"t":40.3,"v":-12.5},{"s":"V","r":2,"t":40.6,"v":-14},{"s":"V","r":2,"t":44.9,"v":-12},{"s":"V","r":2,"t":45.1,"v":0},{"s":"V","r":2,"t":45.3,"v":7},{"s":"V","r":2,"t":45.6,"v":8.5},{"s":"V","r":2,"t":47,"v":9},{"s":"V","r":2,"t":49.95,"v":9.2},
{"s":"V","r":2,"t":50.1,"v":-3},{"s":"V","r":2,"t":50.3,"v":-11},{"s":"V","r":2,"t":50.6,"v":-12.5},{"s":"V","r":2,"t":54.9,"v":-11},{"s":"V","r":2,"t":55.1,"v":1},{"s":"V","r":2,"t":55.3,"v":8},{"s":"V","r":2,"t":55.6,"v":10},{"s":"V","r":2,"t":57,"v":10.5},{"s":"V","r":2,"t":60,"v":9.5},{"s":"V","r":2,"t":65,"v":8},{"s":"V","r":2,"t":72.5,"v":5.8}
]
},
"concat": [
 {"width": 352.2, "height": 201.7,
  "title": {"text": "A", "anchor": "start", "frame": "group", "fontSize": 18, "fontWeight": "bold", "font": "Liberation Sans", "color": "#111", "baseline": "alphabetic", "offset": 0, "dx": -26, "dy": 25},
  "data": {"name": "aTop"},
  "mark": {"type": "line", "color": "#111", "strokeWidth": 1.6},
  "encoding": {
   "x": {"field": "t", "type": "quantitative", "scale": {"domain": [-9.58, 124.6], "nice": false, "zero": false}, "axis": {"values": [0,10,20,30,40,50,60,70,80,90,100,120], "title": null, "labelPadding": 9.5}},
   "y": {"field": "v", "type": "quantitative", "scale": {"domain": [0, 0.617], "nice": false}, "axis": {"values": [0.1,0.2,0.3,0.4,0.5,0.6], "format": ".1f", "title": "NaCl (M)", "offset": -22.6, "titleX": -37.5, "titleY": 103.7}}
  }},
 {"width": 325.6, "height": 202.5,
  "title": {"text": "B", "anchor": "start", "frame": "group", "fontSize": 18, "fontWeight": "bold", "font": "Liberation Sans", "color": "#111", "baseline": "alphabetic", "offset": 0, "dx": -46, "dy": 24},
  "data": {"name": "bTop"},
  "mark": {"type": "line", "color": "#111", "strokeWidth": 1.6},
  "encoding": {
   "x": {"field": "t", "type": "quantitative", "scale": {"domain": [-1.55, 73.6], "nice": false, "zero": false}, "axis": {"values": [0,10,20,30,40,50,60,70], "title": null, "labelPadding": 9.5}},
   "y": {"field": "v", "type": "quantitative", "scale": {"domain": [0, 0.405], "nice": false}, "axis": {"values": [0.1,0.2,0.3,0.4], "format": ".1f", "title": null}}
  }},
 {"width": 341.9, "height": 202.7,
  "data": {"name": "aBot"},
  "layer": [
   {"transform": [{"filter": "datum.s != 'V'"}],
    "mark": {"type": "line", "strokeWidth": 1.3, "interpolate": "monotone"},
    "encoding": {
     "x": {"field": "t", "type": "quantitative", "scale": {"domain": [-10, 126], "nice": false, "zero": false}, "axis": {"values": [0,10,20,30,40,50,60,70,80,90,100,120], "title": "Time (min)", "offset": -30.8, "titleX": 178, "titleY": 35, "labelPadding": 9.5}},
     "y": {"field": "v", "type": "quantitative", "scale": {"domain": [-21.6, 120.7], "nice": false, "zero": false}, "axis": {"values": [20,40,60,80,100,120], "title": "Amounts (%)", "offset": -22.6, "titleX": -37.5, "titleY": 74.2}},
     "color": {"field": "s", "type": "nominal", "scale": {"domain": ["H","P","G","V"], "range": ["#3c4f9f","#e33b41","#23a04d","#f4a24a"]}, "legend": {"orient": "none", "legendX": 264, "legendY": 42.7, "labelExpr": "{'H':'Hog1–PP','P':'Protein','G':'Glycerol','V':'Volume'}[datum.label]"}},
     "detail": {"field": "r"}
    }},
   {"transform": [{"filter": "datum.s == 'V'"}],
    "mark": {"type": "line", "strokeWidth": 1.3, "interpolate": "monotone"},
    "encoding": {
     "x": {"field": "t", "type": "quantitative", "scale": {"domain": [-10, 126], "nice": false, "zero": false}, "axis": {"values": [0,10,20,30,40,50,60,70,80,90,100,120], "title": "Time (min)", "offset": -30.8, "titleX": 178, "titleY": 35, "labelPadding": 9.5}},
     "y": {"field": "v", "type": "quantitative", "scale": {"domain": [-21.6, 120.7], "nice": false, "zero": false}, "axis": {"orient": "left", "values": [-20], "title": "Volume (%)", "offset": -22.6, "titleX": -37.5, "titleY": 194.7}},
     "color": {"field": "s", "type": "nominal"},
     "detail": {"field": "r"}
    }},
   {"transform": [{"filter": "false"}],
    "mark": {"type": "line"},
    "encoding": {
     "x": {"field": "t", "type": "quantitative", "scale": {"domain": [-10, 126], "nice": false, "zero": false}, "axis": {"values": [0,10,20,30,40,50,60,70,80,90,100,120], "title": "Time (min)", "offset": -30.8, "titleX": 178, "titleY": 35, "labelPadding": 9.5}},
     "y": {"field": "v", "type": "quantitative", "scale": {"domain": [-21.6, 120.7], "nice": false, "zero": false}, "axis": {"orient": "left", "values": [-15,-10,-5,5,10,15,25,30,35,45,50,55,65,70,75,85,90,95,105,110,115], "labels": false, "domain": false, "tickSize": -2.5, "title": null, "offset": -22.6}}
    }}
  ],
  "resolve": {"scale": {"y": "independent"}, "axis": {"y": "independent"}}
 },
 {"width": 320.9, "height": 205,
  "data": {"name": "bBot"},
  "layer": [
   {"mark": {"type": "line", "strokeWidth": 1.3, "interpolate": "monotone"},
    "encoding": {
     "x": {"field": "t", "type": "quantitative", "scale": {"domain": [-1.55, 72.5], "nice": false, "zero": false}, "axis": {"values": [0,10,20,30,40,50,60,70], "title": "Time (min)", "offset": -67.3, "titleX": 140.7, "titleY": 70, "labelPadding": 9.5}},
     "y": {"field": "v", "type": "quantitative", "scale": {"domain": [-52, 106.5], "nice": false, "zero": false}, "axis": {"values": [-40,-20,0,20,40,60,80,100], "title": null}},
     "color": {"field": "s", "type": "nominal", "scale": {"domain": ["H","P","G","V"], "range": ["#3c4f9f","#e33b41","#23a04d","#f4a24a"]}, "legend": {"orient": "none", "legendX": 243.3, "legendY": 163.4, "labelExpr": "{'H':'Hog1–PP','P':'Protein','G':'Glycerol','V':'Volume'}[datum.label]"}},
     "detail": {"field": "r"}
    }},
   {"transform": [{"filter": "false"}],
    "mark": {"type": "line"},
    "encoding": {
     "x": {"field": "t", "type": "quantitative", "scale": {"domain": [-1.55, 72.5], "nice": false, "zero": false}, "axis": {"values": [0,10,20,30,40,50,60,70], "title": "Time (min)", "offset": -67.3, "titleX": 140.7, "titleY": 70, "labelPadding": 9.5}},
     "y": {"field": "v", "type": "quantitative", "scale": {"domain": [-52, 106.5], "nice": false, "zero": false}, "axis": {"orient": "left", "values": [-50,-45,-35,-30,-25,-15,-10,-5,5,10,15,25,30,35,45,50,55,65,70,75,85,90,95], "labels": false, "domain": false, "tickSize": -2.5, "title": null}}
    }}
  ],
  "resolve": {"scale": {"y": "independent"}, "axis": {"y": "independent"}}
 }
],
"config": {
 "font": "Liberation Sans",
 "view": {"stroke": null},
 "axis": {"grid": false, "labelFont": "Liberation Sans", "titleFont": "Liberation Sans", "labelFontSize": 13, "titleFontSize": 13, "titleFontWeight": "normal", "labelColor": "#222", "titleColor": "#222", "domainColor": "#333", "tickColor": "#333", "tickSize": -4, "labelPadding": 10.5, "labelOverlap": false},
 "legend": {"title": null, "labelFont": "Liberation Sans", "labelFontSize": 11, "labelColor": "#222", "symbolType": "stroke", "symbolSize": 30, "symbolStrokeWidth": 1.6, "strokeColor": "#333", "fillColor": "white", "padding": 6, "rowPadding": 1.5, "labelOffset": 8}
}
}
